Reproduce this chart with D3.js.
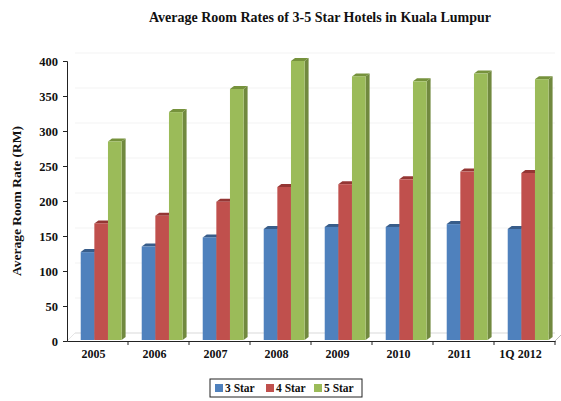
<!DOCTYPE html>
<html>
<head>
<meta charset="utf-8">
<script src="https://cdn.jsdelivr.net/npm/d3@7/dist/d3.min.js"></script>
<style>
  body { margin: 0; background: #fff; }
  text { font-family: "Liberation Serif", "DejaVu Serif", serif; font-weight: bold; fill: #111; }
</style>
</head>
<body>
<svg id="chart" width="561" height="401"></svg>
<script>
var years = ["2005", "2006", "2007", "2008", "2009", "2010", "2011", "1Q 2012"];
var series = ["3 Star", "4 Star", "5 Star"];
var star3 = [127, 135, 148, 160, 163, 163, 167, 160];
var star4 = [168, 179, 199, 220, 224, 231, 242, 240];
var star5 = [285, 327, 360, 400, 378, 371, 382, 374];
var yTicks = [0, 50, 100, 150, 200, 250, 300, 350, 400];

var colors = ["#4F81BD", "#C0504D", "#9BBB59"];
var sideColors = ["#3A6396", "#8E3A37", "#71893F"];
var topColors = ["#385D8A", "#943634", "#76923C"];

var svg = d3.select("#chart");
var pLeft = 67, pRight = 555, pTop = 61, pBottom = 341;
var dx = 4, dy = 3;

var values = [star3, star4, star5];
var x0 = d3.scaleBand().domain(years).range([pLeft, pRight]);
var x1 = d3.scaleBand().domain(series).range([x0.bandwidth() * 0.225, x0.bandwidth() * 0.895]);
var y = d3.scaleLinear().domain([0, 400]).range([pBottom, pTop]);

// faint back wall gridlines
svg.append("g").selectAll("line").data(yTicks.slice(1)).enter()
    .append("line")
    .attr("x1", pLeft + 8).attr("x2", pRight)
    .attr("y1", function (d) { return y(d) - 8; })
    .attr("y2", function (d) { return y(d) - 8; })
    .attr("stroke", "#f3f3f3").attr("stroke-width", 1);

// floor
svg.append("line")
    .attr("x1", pLeft + 8).attr("x2", pRight)
    .attr("y1", pBottom - 8).attr("y2", pBottom - 8)
    .attr("stroke", "#d9d9d9").attr("stroke-width", 1);
svg.append("line")
    .attr("x1", pLeft).attr("y1", pBottom)
    .attr("x2", pLeft + 8).attr("y2", pBottom - 8)
    .attr("stroke", "#e6e6e6").attr("stroke-width", 1);
svg.append("line")
    .attr("x1", pRight).attr("y1", pBottom)
    .attr("x2", pRight + 6).attr("y2", pBottom - 6)
    .attr("stroke", "#bbb").attr("stroke-width", 1);

// bars
var groups = svg.append("g").selectAll("g").data(years).enter()
    .append("g")
    .attr("transform", function (d) { return "translate(" + x0(d) + ",0)"; });

groups.each(function (yr, i) {
    var g = d3.select(this);
    series.forEach(function (s, j) {
        var v = values[j][i];
        var bx = x1(s), w = x1.bandwidth(), by = y(v), base = y(0) - 1;
        // side face
        g.append("path")
            .attr("d", "M" + (bx + w) + "," + by + "L" + (bx + w + dx) + "," + (by - dy) +
                "L" + (bx + w + dx) + "," + (base - dy) + "L" + (bx + w) + "," + base + "Z")
            .attr("fill", sideColors[j]);
        // top face
        g.append("path")
            .attr("d", "M" + bx + "," + by + "L" + (bx + dx) + "," + (by - dy) +
                "L" + (bx + w + dx) + "," + (by - dy) + "L" + (bx + w) + "," + by + "Z")
            .attr("fill", topColors[j]);
        // front face
        g.append("rect")
            .attr("x", bx).attr("y", by)
            .attr("width", w).attr("height", base - by)
            .attr("fill", colors[j]);
    });
});

// axes
var yAxis = d3.axisLeft(y).tickValues(yTicks).tickSize(4).tickPadding(5);
var gy = svg.append("g").attr("transform", "translate(" + pLeft + ",0)").call(yAxis);
gy.selectAll("text").style("font-size", "12.5px");
gy.selectAll("line, path").attr("stroke", "#222");

var xAxis = d3.axisBottom(x0).tickSize(0).tickPadding(8);
var gx = svg.append("g").attr("transform", "translate(0," + pBottom + ")").call(xAxis);
gx.selectAll("text").style("font-size", "12px").attr("dx", -4);
gx.select("path").attr("stroke", "#222");
gx.append("g").selectAll("line").data(years.slice(1).concat(["end"])).enter()
    .append("line")
    .attr("x1", function (d) { return d === "end" ? pRight : x0(d); })
    .attr("x2", function (d) { return d === "end" ? pRight : x0(d); })
    .attr("y1", 0).attr("y2", 4)
    .attr("stroke", "#222");

// title
svg.append("text")
    .attr("x", 320).attr("y", 22)
    .attr("text-anchor", "middle")
    .style("font-size", "14px")
    .text("Average Room Rates of 3-5 Star Hotels in Kuala Lumpur");

// y label
svg.append("text")
    .attr("transform", "translate(21,201) rotate(-90)")
    .attr("text-anchor", "middle")
    .style("font-size", "13.5px")
    .text("Average Room Rate (RM)");

// legend
var legend = svg.append("g").attr("transform", "translate(210,379)");
legend.append("rect")
    .attr("width", 152).attr("height", 18)
    .attr("fill", "#fff").attr("stroke", "#222").attr("stroke-width", 1);
var lx = [5, 56, 104];
series.forEach(function (s, j) {
    legend.append("rect")
        .attr("x", lx[j]).attr("y", 5).attr("width", 8).attr("height", 8)
        .attr("fill", colors[j]);
    legend.append("text")
        .attr("x", lx[j] + 10).attr("y", 13)
        .style("font-size", "11.5px")
        .text(s);
});
</script>
</body>
</html>
